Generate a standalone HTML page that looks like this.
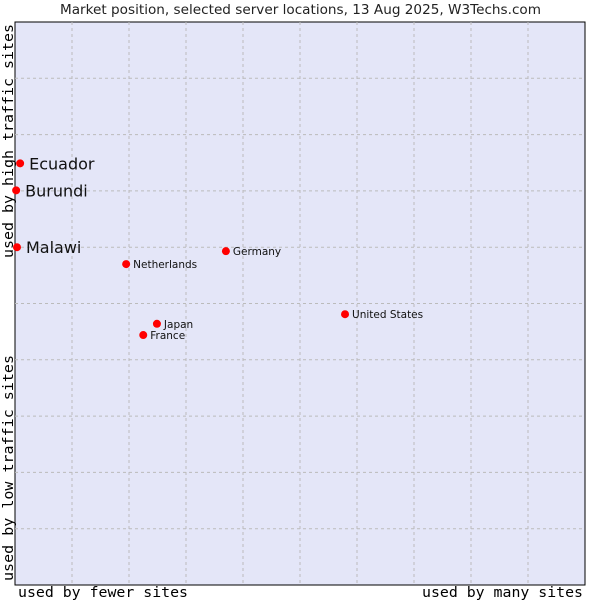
<!DOCTYPE html>
<html><head><meta charset="utf-8"><style>
body{margin:0;background:#fff;}
svg{display:block;}
</style></head><body>
<svg id="chart" width="600" height="600" xmlns="http://www.w3.org/2000/svg" font-family="DejaVu Sans, Liberation Sans, sans-serif">
<text x="60" y="14" textLength="481" lengthAdjust="spacingAndGlyphs" font-size="13" fill="#222">Market position, selected server locations, 13 Aug 2025, W3Techs.com</text>
<rect x="15" y="22" width="570" height="563" fill="#e4e6f8" stroke="#000" stroke-width="1"/>
<g id="grid"></g>
<g id="points"></g>
<text x="18" y="597" textLength="170" lengthAdjust="spacingAndGlyphs" font-family="DejaVu Sans Mono, Liberation Mono, monospace" font-size="14" fill="#000">used by fewer sites</text>
<text x="422" y="597" textLength="161" lengthAdjust="spacingAndGlyphs" font-family="DejaVu Sans Mono, Liberation Mono, monospace" font-size="14" fill="#000">used by many sites</text>
<text transform="translate(13,258) rotate(-90)" textLength="234" lengthAdjust="spacingAndGlyphs" font-family="DejaVu Sans Mono, Liberation Mono, monospace" font-size="14" fill="#000">used by high traffic sites</text>
<text transform="translate(13,581) rotate(-90)" textLength="226" lengthAdjust="spacingAndGlyphs" font-family="DejaVu Sans Mono, Liberation Mono, monospace" font-size="14" fill="#000">used by low traffic sites</text>
</svg>
<script>
const names=["Ecuador","Burundi","Malawi","Netherlands","Germany","United States","Japan","France"];
const xVals=[0.9,0.2,0.35,19.5,37.0,57.9,24.9,22.5];
const yVals=[74.9,70.1,60.0,57.0,59.3,48.1,46.4,44.4];
const big=[true,true,true,false,false,false,false,false];
const NS="http://www.w3.org/2000/svg";
const X0=15,W=570,Y0=22,H=563;
const sx=v=>X0+v/100*W, sy=v=>Y0+H-v/100*H;
const grid=document.getElementById('grid');
for(let i=1;i<10;i++){
  const l=document.createElementNS(NS,'line');
  
  
  l.setAttribute('x1',sx(i*10));l.setAttribute('x2',sx(i*10));l.setAttribute('y1',Y0);l.setAttribute('y2',Y0+H);
  l.setAttribute('stroke','#bbb');l.setAttribute('stroke-dasharray','3,3');grid.appendChild(l);
  const h=document.createElementNS(NS,'line');
  
  
  h.setAttribute('y1',sy(i*10));h.setAttribute('y2',sy(i*10));h.setAttribute('x1',X0);h.setAttribute('x2',X0+W);
  h.setAttribute('stroke','#bbb');h.setAttribute('stroke-dasharray','3,3');grid.appendChild(h);
}
const pts=document.getElementById('points');
names.forEach((n,i)=>{
  const x=sx(xVals[i]),y=sy(yVals[i]);
  const c=document.createElementNS(NS,'circle');
  
  
  c.setAttribute('cx',x);c.setAttribute('cy',y);c.setAttribute('r',4);c.setAttribute('fill','#f00');
  pts.appendChild(c);
  const t=document.createElementNS(NS,'text');
  
  
  t.setAttribute('x',x+(big[i]?9:7));t.setAttribute('y',y+(big[i]?6:4));
  t.setAttribute('font-size',big[i]?16:10.5);t.setAttribute('fill','#111');
  t.textContent=n;pts.appendChild(t);
});
</script>
</body></html>
